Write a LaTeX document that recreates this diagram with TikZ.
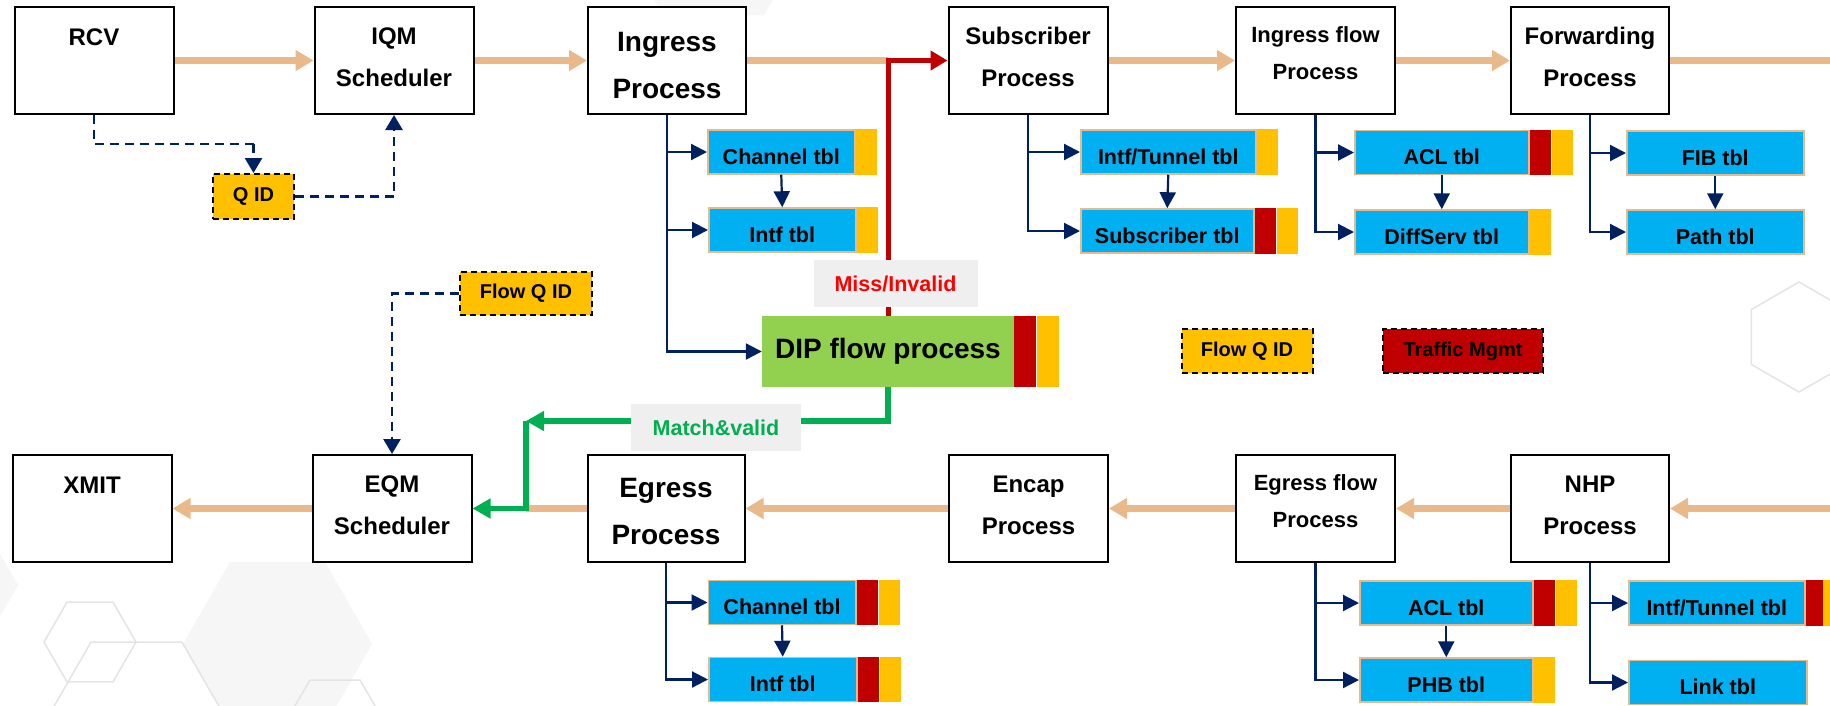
\documentclass[tikz,border=0pt]{standalone}
\usepackage{fontspec}
\setmainfont{Liberation Sans}
\usetikzlibrary{arrows.meta}
\definecolor{flowtan}{RGB}{233,185,137}
\definecolor{navy}{RGB}{0,32,96}
\definecolor{tblblue}{RGB}{0,176,240}
\definecolor{amber}{RGB}{255,192,0}
\definecolor{darkred}{RGB}{192,0,0}
\definecolor{leaf}{RGB}{146,208,80}
\definecolor{okgreen}{RGB}{0,176,80}
\definecolor{labelgray}{RGB}{239,239,239}
\definecolor{hexline}{RGB}{228,228,228}
\definecolor{hexfill}{RGB}{246,246,246}
\begin{document}
\begin{tikzpicture}[x=1pt, y=-1pt,
  procbox/.style={draw=black, line width=2pt, fill=white, minimum width=159pt,
    minimum height=107pt, inner sep=0pt},
  lbl/.style={inner sep=0pt, align=center},
  lbl24/.style={lbl, font=\bfseries\fontsize{24}{42}\selectfont},
  lbl28/.style={lbl, font=\bfseries\fontsize{28}{47}\selectfont},
  lbl22/.style={lbl, font=\bfseries\fontsize{22}{37}\selectfont},
  tbl/.style={draw=flowtan, line width=1.5pt, fill=tblblue, minimum height=44pt,
    inner sep=0pt, anchor=west, font=\bfseries\fontsize{21.5}{24}\selectfont,
    text height=24.4pt, text depth=0pt},
  redbar/.style={fill=darkred, minimum width=21.5pt, minimum height=45.5pt,
    inner sep=0pt, anchor=west},
  yelbar/.style={fill=amber, minimum width=21.5pt, minimum height=45.5pt,
    inner sep=0pt, anchor=west},
  qbox/.style={draw=black, line width=2pt, dash pattern=on 6pt off 4pt,
    fill=amber, inner sep=0pt, font=\bfseries\fontsize{20}{24}\selectfont},
  tag/.style={fill=labelgray, inner sep=0pt, minimum height=47pt,
    font=\bfseries\fontsize{21.5}{24}\selectfont},
  flow/.style={draw=flowtan, line width=7pt},
  flowarrow/.style={flow, -{Triangle[length=18pt,width=20pt]}},
  linkarrow/.style={draw=navy, line width=2.2pt, -{Triangle[length=16pt,width=16pt]}},
  qlink/.style={draw=navy, line width=2.5pt, dash pattern=on 9pt off 6pt,
    -{Triangle[length=15pt,width=17pt]}},
  qline/.style={draw=navy, line width=2.5pt, dash pattern=on 9pt off 6pt},
  missarrow/.style={draw=darkred, line width=5pt, -{Triangle[length=17pt,width=19pt]}},
  hitarrow/.style={draw=okgreen, line width=5.5pt, -{Triangle[length=18pt,width=19pt]}},
  hexedge/.style={draw=hexline, line width=1.5pt}
]
\useasboundingbox (0,0) rectangle (1830,705);
\clip (0,0) rectangle (1830,705);
\fill[white] (0,0) rectangle (1830,705);

% faint background hexagons
\fill[hexfill] (814.5,-72.5) -- (764,15) -- (663,15) -- (612.5,-72.5) -- (663,-160) -- (764,-160) -- cycle;
\fill[hexfill] (372,644) -- (325,726) -- (230,726) -- (183,644) -- (230,562) -- (325,562) -- cycle;
\fill[hexfill] (18,585) -- (-6,626.6) -- (-54,626.6) -- (-78,585) -- (-54,543.4) -- (-6,543.4) -- cycle;
\draw[hexedge] (136,642) -- (113,681.8) -- (67,681.8) -- (44,642) -- (67,602.2) -- (113,602.2) -- cycle;
\draw[hexedge] (227.5,721) -- (182,799.8) -- (91,799.8) -- (45.5,721) -- (91,642.2) -- (182,642.2) -- cycle;
\draw[hexedge] (385,723) -- (360,766) -- (310,766) -- (285,723) -- (310,680) -- (360,680) -- cycle;
\draw[hexedge] (1799,282) -- (1846.6,309.5) -- (1846.6,364.5) -- (1799,392) -- (1751.4,364.5) -- (1751.4,309.5) -- cycle;

% ingress pipeline
\node[procbox] (rcv) at (94,60.5) {};
\node[procbox] (iqm) at (394,60.5) {};
\node[procbox, minimum width=158pt] (ing) at (667,60.5) {};
\node[procbox] (sub) at (1028,60.5) {};
\node[procbox] (iflow) at (1315.5,60.5) {};
\node[procbox, minimum width=158pt] (fwd) at (1590,60.5) {};
\node[lbl24] (rcv-t) at (94,37) {RCV};
\node[lbl24] (iqm-t) at (394,57) {IQM\\Scheduler};
\node[lbl28] (ing-t) at (667,65) {Ingress\\Process};
\node[lbl24] (sub-t) at (1028,57) {Subscriber\\Process};
\node[lbl22] (iflow-t) at (1315.5,53.5) {Ingress flow\\Process};
\node[lbl24] (fwd-t) at (1590,57) {Forwarding\\Process};

% egress pipeline
\node[procbox] (xmit) at (92,508.5) {};
\node[procbox] (eqm) at (392,508.5) {};
\node[procbox, minimum width=157pt] (egr) at (666,508.5) {};
\node[procbox] (encap) at (1028.5,508.5) {};
\node[procbox] (eflow) at (1315.5,508.5) {};
\node[procbox, minimum width=158pt] (nhp) at (1590,508.5) {};
\node[lbl24] (xmit-t) at (92,485) {XMIT};
\node[lbl24] (eqm-t) at (392,505) {EQM\\Scheduler};
\node[lbl28] (egr-t) at (666,511) {Egress\\Process};
\node[lbl24] (encap-t) at (1028.5,505) {Encap\\Process};
\node[lbl22] (eflow-t) at (1315.5,501.5) {Egress flow\\Process};
\node[lbl24] (nhp-t) at (1590,505) {NHP\\Process};

% lookup tables, ingress side
\node[tbl, minimum width=147pt] (ichan) at (707,152) {Channel tbl};
\node[yelbar] (ichan-y) at (ichan.east) {};
\node[tbl, minimum width=147pt] (iintf) at (708,230) {Intf tbl};
\node[yelbar] (iintf-y) at (iintf.east) {};
\node[tbl, minimum width=175pt] (sintf) at (1080,152) {Intf/Tunnel tbl};
\node[yelbar] (sintf-y) at (sintf.east) {};
\node[tbl, minimum width=173pt] (ssub) at (1080,231) {Subscriber tbl};
\node[redbar] (ssub-r) at (ssub.east) {};
\node[yelbar] (ssub-y) at (ssub-r.east) {};
\node[tbl, minimum width=174pt] (facl) at (1354,152.5) {ACL tbl};
\node[redbar] (facl-r) at (facl.east) {};
\node[yelbar] (facl-y) at (facl-r.east) {};
\node[tbl, minimum width=174pt] (fdiff) at (1354,232) {DiffServ tbl};
\node[yelbar] (fdiff-y) at (fdiff.east) {};
\node[tbl, minimum width=177pt] (fib) at (1626,153) {FIB tbl};
\node[tbl, minimum width=177pt] (fpath) at (1626,232) {Path tbl};

% lookup tables, egress side
\node[tbl, minimum width=147.5pt] (echan) at (707.5,602.5) {Channel tbl};
\node[redbar] (echan-r) at (echan.east) {};
\node[yelbar] (echan-y) at (echan-r.east) {};
\node[tbl, minimum width=148pt] (eintf) at (708,679.5) {Intf tbl};
\node[redbar] (eintf-r) at (eintf.east) {};
\node[yelbar] (eintf-y) at (eintf-r.east) {};
\node[tbl, minimum width=173pt] (eacl) at (1359,603) {ACL tbl};
\node[redbar] (eacl-r) at (eacl.east) {};
\node[yelbar] (eacl-y) at (eacl-r.east) {};
\node[tbl, minimum width=173pt] (phb) at (1359,680) {PHB tbl};
\node[yelbar] (phb-y) at (phb.east) {};
\node[tbl, minimum width=176pt] (nintf) at (1628,603) {Intf/Tunnel tbl};
\node[redbar, minimum width=17pt] (nintf-r) at (nintf.east) {};
\node[yelbar] (nintf-y) at (nintf-r.east) {};
\node[tbl, minimum width=178pt] (nlink) at (1628,682.5) {Link tbl};

% DIP flow process
\node[fill=leaf, minimum width=252pt, minimum height=71pt, inner sep=0pt,
  font=\bfseries\fontsize{28}{32}\selectfont] (dip) at (888,351.5) {DIP flow process};
\node[fill=darkred, minimum width=22pt, minimum height=71pt, inner sep=0pt, anchor=west] (dip-r) at (dip.east) {};
\node[fill=amber, minimum width=22pt, minimum height=71pt, inner sep=0pt, anchor=west] (dip-y) at (dip-r.east) {};

% queue ids and legend
\node[qbox, minimum width=81pt, minimum height=45pt] (qid) at (253.5,196.5) {Q ID};
\node[qbox, minimum width=132pt, minimum height=43pt] (fqid) at (526,293.5) {Flow Q ID};
\node[qbox, minimum width=131pt, minimum height=44pt] (legq) at (1247,351) {Flow Q ID};
\node[qbox, fill=darkred, minimum width=160pt, minimum height=44pt] (legtm) at (1463,351) {Traffic Mgmt};

% packet flow, top row
\coordinate (rc) at (dip.north |- sub.west);
\coordinate (outR) at (1830,60.5);
\draw[flowarrow] (rcv.east) -- (iqm.west);
\draw[flowarrow] (iqm.east) -- (ing.west);
\draw[flow] (ing.east) -- (rc);
\draw[flowarrow] (sub.east) -- (iflow.west);
\draw[flowarrow] (iflow.east) -- (fwd.west);
\draw[flow] (fwd.east) -- (outR);

% packet flow, bottom row
\coordinate (gc) at (526,421);
\coordinate (gt) at (gc |- egr.west);
\coordinate (inR) at (1830,508.5);
\draw[flowarrow] (inR) -- (nhp.east);
\draw[flowarrow] (nhp.west) -- (eflow.east);
\draw[flowarrow] (eflow.west) -- (encap.east);
\draw[flowarrow] (encap.west) -- (egr.east);
\draw[flow] (egr.west) -- (gt);
\draw[flowarrow] (eqm.west) -- (xmit.east);

% table lookups
\draw[linkarrow] (ing.south) |- (dip.west);
\draw[linkarrow] (ing.south |- ichan.west) -- (ichan.west);
\draw[linkarrow] (ing.south |- iintf.west) -- (iintf.west);
\draw[linkarrow] (ichan.south) -- (iintf.north);
\draw[linkarrow] (sub.south) |- (ssub.west);
\draw[linkarrow] (sub.south |- sintf.west) -- (sintf.west);
\draw[linkarrow] (sintf.south) -- (ssub.north);
\draw[linkarrow] (iflow.south) |- (fdiff.west);
\draw[linkarrow] (iflow.south |- facl.west) -- (facl.west);
\draw[linkarrow] (facl.south) -- (fdiff.north);
\draw[linkarrow] (fwd.south) |- (fpath.west);
\draw[linkarrow] (fwd.south |- fib.west) -- (fib.west);
\draw[linkarrow] (fib.south) -- (fpath.north);
\draw[linkarrow] (egr.south) |- (eintf.west);
\draw[linkarrow] (egr.south |- echan.west) -- (echan.west);
\draw[linkarrow] (echan.south) -- (eintf.north);
\draw[linkarrow] (eflow.south) |- (phb.west);
\draw[linkarrow] (eflow.south |- eacl.west) -- (eacl.west);
\draw[linkarrow] (eacl.south) -- (phb.north);
\draw[linkarrow] (nhp.south) |- (nlink.west);
\draw[linkarrow] (nhp.south |- nintf.west) -- (nintf.west);

% queue id hand-off
\coordinate (qbend) at (qid.north |- 0,144);
\draw[qline] (rcv.south) |- (qbend);
\draw[qlink] (qbend) -- (qid.north);
\draw[qlink] (qid.east) -| (iqm.south);
\draw[qlink] (fqid.west) -| (eqm.north);

% DIP flow outcomes
\draw[missarrow] (dip.north) |- (sub.west);
\draw[hitarrow] (dip.south) |- (gc);
\draw[hitarrow] (gc) |- (eqm.east);
\node[tag, minimum width=164pt, text=red] (miss) at (895.5,283.5) {Miss/Invalid};
\node[tag, minimum width=170pt, text=okgreen] (hit) at (716,427.5) {Match\&valid};
\end{tikzpicture}
\end{document}
